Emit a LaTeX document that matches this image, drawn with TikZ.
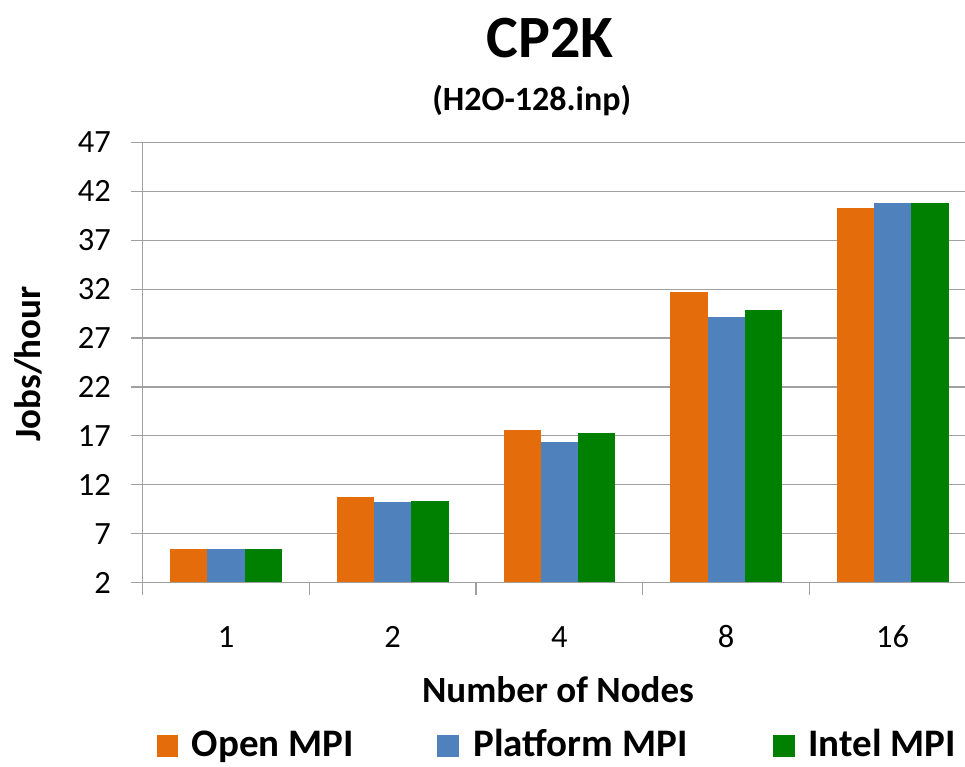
\documentclass[tikz,border=0pt]{standalone}
\usepackage{fontspec}
\setmainfont{Carlito}
\definecolor{openorange}{HTML}{E46C0A}
\definecolor{platformblue}{HTML}{4F81BD}
\definecolor{intelgreen}{HTML}{008000}
\definecolor{gridgray}{HTML}{A0A0A0}

\begin{document}
\begin{tikzpicture}[x=1pt, y=-1pt,
    gridline/.style={draw=gridgray, line width=1.2pt},
    ticklabel/.style={inner sep=0pt, font=\fontsize{32.5}{39}\selectfont},
    axistitle/.style={inner sep=0pt, anchor=base, font=\bfseries\fontsize{37}{44}\selectfont},
    legendtext/.style={inner sep=0pt, anchor=base west, font=\bfseries\fontsize{39}{47}\selectfont},
    keybox/.style={inner sep=0pt, minimum width=21.6pt, minimum height=22.3pt}]
    \useasboundingbox (0,0) rectangle (965,766);

    % Titles
    \node[inner sep=0pt, anchor=base, font=\bfseries\fontsize{60}{72}\selectfont] (title) at (550,57) {CP2K};
    \node[inner sep=0pt, anchor=base, font=\bfseries\fontsize{34}{41}\selectfont] (subtitle) at (531.7,110) {(H2O-128.inp)};

    \begin{scope}[shift={(0,602.06)}, y=9.78pt]
    % Draw grid lines
    \draw[gridline] (130.7,2) -- (965,2);
    \draw[gridline] (130.7,7) -- (965,7);
    \draw[gridline] (130.7,12) -- (965,12);
    \draw[gridline] (130.7,17) -- (965,17);
    \draw[gridline] (130.7,22) -- (965,22);
    \draw[gridline] (130.7,27) -- (965,27);
    \draw[gridline] (130.7,32) -- (965,32);
    \draw[gridline] (130.7,37) -- (965,37);
    \draw[gridline] (130.7,42) -- (965,42);
    \draw[gridline] (130.7,47) -- (965,47);

    % Draw bars
    \fill[openorange] (170.2,2) rectangle (207.4,5.4);
    \fill[platformblue] (207.4,2) rectangle (244.6,5.4);
    \fill[intelgreen] (244.6,2) rectangle (281.8,5.4);

    \fill[openorange] (336.9,2) rectangle (374.1,10.7);
    \fill[platformblue] (374.1,2) rectangle (411.3,10.2);
    \fill[intelgreen] (411.3,2) rectangle (448.5,10.35);

    \fill[openorange] (503.6,2) rectangle (540.8,17.55);
    \fill[platformblue] (540.8,2) rectangle (578.0,16.4);
    \fill[intelgreen] (578.0,2) rectangle (615.2,17.25);

    \fill[openorange] (670.3,2) rectangle (707.5,31.75);
    \fill[platformblue] (707.5,2) rectangle (744.7,29.1);
    \fill[intelgreen] (744.7,2) rectangle (781.9,29.9);

    \fill[openorange] (837.0,2) rectangle (874.2,40.3);
    \fill[platformblue] (874.2,2) rectangle (911.4,40.85);
    \fill[intelgreen] (911.4,2) rectangle (948.6,40.85);

    % Draw axes
    \draw[gridline] (130.7,2) -- (965,2);
    \draw[gridline] (142.7,0.77) -- (142.7,47);
    \draw[gridline] (309.3,0.77) -- (309.3,2);
    \draw[gridline] (476.0,0.77) -- (476.0,2);
    \draw[gridline] (642.7,0.77) -- (642.7,2);
    \draw[gridline] (809.3,0.77) -- (809.3,2);

    % Value labels
    \node[ticklabel, anchor=east] (y2) at (111,2) {2};
    \node[ticklabel, anchor=east] (y7) at (111,7) {7};
    \node[ticklabel, anchor=east] (y12) at (111,12) {12};
    \node[ticklabel, anchor=east] (y17) at (111,17) {17};
    \node[ticklabel, anchor=east] (y22) at (111,22) {22};
    \node[ticklabel, anchor=east] (y27) at (111,27) {27};
    \node[ticklabel, anchor=east] (y32) at (111,32) {32};
    \node[ticklabel, anchor=east] (y37) at (111,37) {37};
    \node[ticklabel, anchor=east] (y42) at (111,42) {42};
    \node[ticklabel, anchor=east] (y47) at (111,47) {47};
    \end{scope}

    % Category labels
    \node[ticklabel] (x1) at (226.0,637) {1};
    \node[ticklabel] (x2) at (392.7,637) {2};
    \node[ticklabel] (x4) at (559.3,637) {4};
    \node[ticklabel] (x8) at (726.0,637) {8};
    \node[ticklabel] (x16) at (892.7,637) {16};

    % Axis titles
    \node[axistitle] (xlabel) at (558,702) {Number of Nodes};
    \node[axistitle, rotate=90] (ylabel) at (40,364) {Jobs/hour};

    % Legend
    \node[keybox, fill=openorange] (keyopen) at (167.5,746.2) {};
    \node[legendtext] (open) at (191.7,756) {Open MPI};
    \node[keybox, fill=platformblue] (keyplatform) at (448.0,746.2) {};
    \node[legendtext] (platform) at (473.3,756) {Platform MPI};
    \node[keybox, fill=intelgreen] (keyintel) at (783.9,746.2) {};
    \node[legendtext] (intel) at (808.3,756) {Intel MPI};
\end{tikzpicture}
\end{document}
